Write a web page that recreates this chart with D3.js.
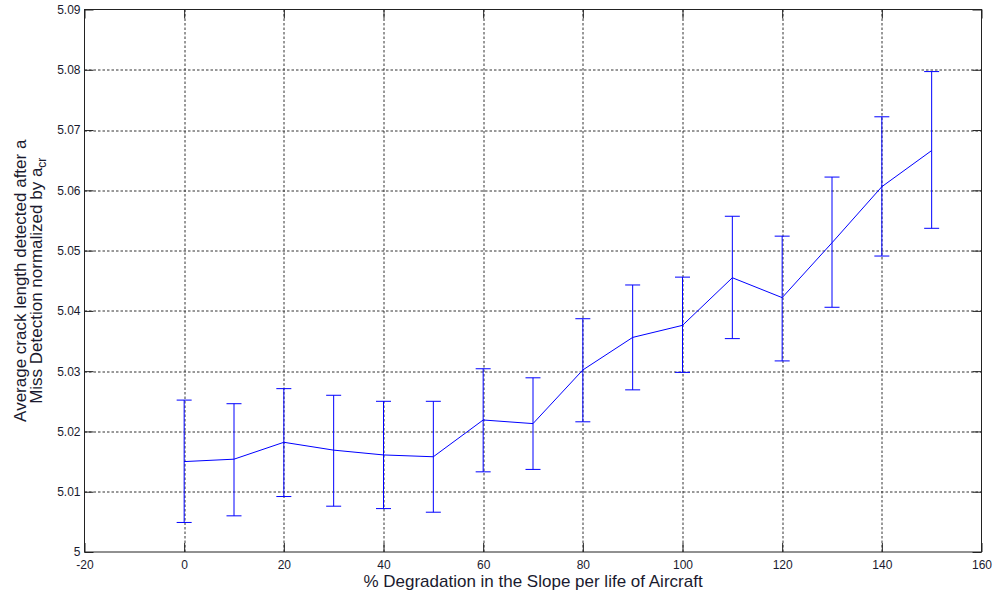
<!DOCTYPE html>
<meta charset='utf-8'>
<head>
<script src='https://d3js.org/d3.v7.min.js'></script>
<style>
  body{ margin: 0; background: #fff; }
  text{ font-family: 'Liberation Sans', Arial, sans-serif; fill: #1a1a2e; }
</style>
</head>
<body>
<svg id="chart"></svg>
<script>

  // % degradation in slope
  var degradation = [0, 10, 20, 30, 40, 50, 60, 70, 80, 90, 100, 110, 120, 130, 140, 150];
  // mean normalized crack length
  var meanLen = [5.0150, 5.0154, 5.0182, 5.0169, 5.0161, 5.0158, 5.0219, 5.0213,
                 5.0302, 5.0356, 5.0376, 5.0455, 5.0422, 5.0513, 5.0606, 5.0666];
  // error bar ends
  var lowerLen = [5.0049, 5.0060, 5.0092, 5.0076, 5.0072, 5.0066, 5.0133, 5.0137,
                  5.0216, 5.0269, 5.0298, 5.0354, 5.0317, 5.0406, 5.0491, 5.0537];
  var upperLen = [5.0252, 5.0246, 5.0271, 5.0260, 5.0250, 5.0250, 5.0304, 5.0289,
                  5.0387, 5.0443, 5.0456, 5.0557, 5.0524, 5.0622, 5.0722, 5.0797];

  var xTicks = [-20, 0, 20, 40, 60, 80, 100, 120, 140, 160];
  var yTicks = [5, 5.01, 5.02, 5.03, 5.04, 5.05, 5.06, 5.07, 5.08, 5.09];

  var width = 993, height = 594;
  var margin = {top: 9.5, right: 11.5, bottom: 42, left: 84.5};
  var innerW = width - margin.left - margin.right,
      innerH = height - margin.top - margin.bottom;

  var svg = d3.select('#chart')
      .attr('width', width)
      .attr('height', height);

  var g = svg.append('g')
      .attr('transform', 'translate(' + margin.left + ',' + margin.top + ')');

  var x = d3.scaleLinear().domain([-20, 160]).range([0, innerW]);
  var y = d3.scaleLinear().domain([5, 5.09]).range([innerH, 0]);

  // grid
  g.append('g').selectAll('line')
    .data(xTicks.slice(1, -1))
    .enter().append('line')
      .attr('x1', function(d){ return Math.round(x(d)) + 0.5; })
      .attr('x2', function(d){ return Math.round(x(d)) + 0.5; })
      .attr('y1', 0).attr('y2', innerH)
      .attr('stroke', '#333').attr('stroke-dasharray', '2.5,2');

  g.append('g').selectAll('line')
    .data(yTicks.slice(1, -1))
    .enter().append('line')
      .attr('y1', function(d){ return Math.round(y(d)) + 0.5; })
      .attr('y2', function(d){ return Math.round(y(d)) + 0.5; })
      .attr('x1', 0).attr('x2', innerW)
      .attr('stroke', '#333').attr('stroke-dasharray', '2.5,2');

  // axes (ticks inward, mirrored on top/right)
  var fmtX = function(d){ return String(d); };
  var fmtY = function(d){ return d === 5 ? '5' : d3.format('.2f')(d); };
  var tickLen = 9;

  g.append('g')
      .attr('transform', 'translate(0,' + innerH + ')')
      .call(d3.axisBottom(x).tickValues(xTicks).tickFormat(fmtX).tickSizeInner(-tickLen).tickSizeOuter(0).tickPadding(8));
  g.append('g')
      .call(d3.axisLeft(y).tickValues(yTicks).tickFormat(fmtY).tickSizeInner(-tickLen).tickSizeOuter(0).tickPadding(4));
  g.append('g')
      .call(d3.axisTop(x).tickValues(xTicks).tickSizeInner(-tickLen).tickSizeOuter(0).tickFormat(''));
  g.append('g')
      .attr('transform', 'translate(' + innerW + ',0)')
      .call(d3.axisRight(y).tickValues(yTicks).tickSizeInner(-tickLen).tickSizeOuter(0).tickFormat(''));

  g.selectAll('.domain').remove();
  g.selectAll('.tick line').attr('stroke', '#222');
  g.selectAll('.tick text').style('font-size', '12px').style('font-family', "'Liberation Sans', Arial, sans-serif").attr('fill', '#1a1a2e');

  // box
  g.append('rect')
    .attr('x', 0).attr('y', 0)
    .attr('width', innerW).attr('height', innerH)
    .attr('fill', 'none').attr('stroke', '#222').attr('stroke-width', 1);

  // data
  var pts = degradation.map(function(d, i){
    return {x: d, m: meanLen[i], lo: lowerLen[i], hi: upperLen[i]};
  });

  var bars = g.append('g').selectAll('g')
    .data(pts).enter().append('g');

  bars.append('line')
    .attr('x1', function(d){ return x(d.x); }).attr('x2', function(d){ return x(d.x); })
    .attr('y1', function(d){ return y(d.lo); }).attr('y2', function(d){ return y(d.hi); })
    .attr('stroke', '#0000ff');
  bars.append('line')
    .attr('x1', function(d){ return x(d.x) - 7.5; }).attr('x2', function(d){ return x(d.x) + 7.5; })
    .attr('y1', function(d){ return y(d.hi); }).attr('y2', function(d){ return y(d.hi); })
    .attr('stroke', '#0000ff');
  bars.append('line')
    .attr('x1', function(d){ return x(d.x) - 7.5; }).attr('x2', function(d){ return x(d.x) + 7.5; })
    .attr('y1', function(d){ return y(d.lo); }).attr('y2', function(d){ return y(d.lo); })
    .attr('stroke', '#0000ff');

  var line = d3.line()
    .x(function(d){ return x(d.x); })
    .y(function(d){ return y(d.m); });

  g.append('path')
    .datum(pts)
    .attr('d', line)
    .attr('fill', 'none')
    .attr('stroke', '#0000ff')
    .attr('stroke-width', 1);

  // labels
  svg.append('text')
    .attr('x', margin.left + innerW / 2)
    .attr('y', 587)
    .attr('text-anchor', 'middle')
    .style('font-size', '17px')
    .text('% Degradation in the Slope per life of Aircraft');

  var cy = margin.top + innerH / 2;
  svg.append('text')
    .attr('transform', 'translate(25.5,' + cy + ') rotate(-90)')
    .attr('text-anchor', 'middle')
    .style('font-size', '17px')
    .text('Average crack length detected after a');

  var yl2 = svg.append('text')
    .attr('transform', 'translate(41.5,' + cy + ') rotate(-90)')
    .attr('text-anchor', 'middle')
    .style('font-size', '17px');
  yl2.append('tspan').text('Miss Detection normalized by a');
  yl2.append('tspan').attr('dy', 4).style('font-size', '12px').text('cr');

</script>
</body>
